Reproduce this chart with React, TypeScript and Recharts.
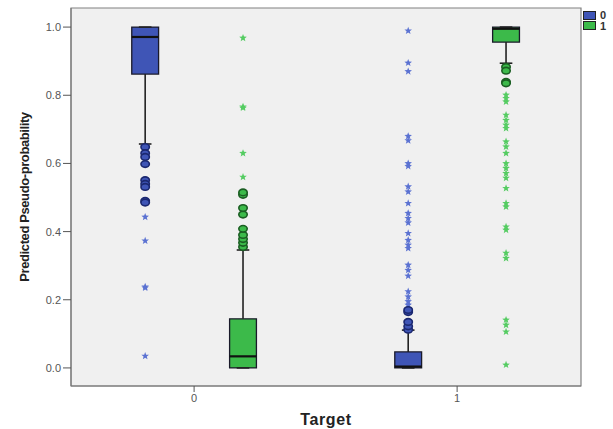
import {
  ScatterChart,
  Scatter,
  XAxis,
  YAxis,
  CartesianGrid,
  ReferenceArea,
  ReferenceLine,
} from "recharts";

// groups on the x axis (Target) and the two clustered series (legend 0 / 1)
const TARGETS: number[] = [0, 1];
const SERIES: string[] = ["0", "1"];

// box statistics, indexed [series][target]
const lowerWhisker: number[][] = [
  [0.657, 0.0],
  [0.0, 0.894],
];
const q1: number[][] = [
  [0.862, 0.0],
  [0.0, 0.956],
];
const median: number[][] = [
  [0.971, 0.004],
  [0.034, 0.995],
];
const q3: number[][] = [
  [1.0, 0.047],
  [0.144, 1.0],
];
const upperWhisker: number[][] = [
  [1.0, 0.111],
  [0.346, 1.0],
];

// outliers (circles) and extremes (stars), indexed [series][target]
const outliers: number[][][] = [
  [
    [0.648, 0.63, 0.619, 0.598, 0.551, 0.54, 0.531, 0.49, 0.485],
    [0.112, 0.122, 0.135, 0.164, 0.17],
  ],
  [
    [0.355, 0.367, 0.378, 0.39, 0.408, 0.45, 0.469, 0.508, 0.515],
    [0.883, 0.872, 0.839, 0.835],
  ],
];
const extremes: number[][][] = [
  [
    [0.443, 0.373, 0.238, 0.235, 0.035],
    [
      0.989, 0.895, 0.87, 0.68, 0.667, 0.6, 0.592, 0.532, 0.517, 0.483, 0.454,
      0.439, 0.426, 0.395, 0.375, 0.361, 0.351, 0.302, 0.287, 0.27, 0.224,
      0.209, 0.195, 0.185,
    ],
  ],
  [
    [0.56, 0.63, 0.763, 0.766, 0.968],
    [
      0.801, 0.791, 0.781, 0.742, 0.727, 0.713, 0.703, 0.664, 0.649, 0.63, 0.6,
      0.586, 0.571, 0.557, 0.527, 0.483, 0.473, 0.414, 0.405, 0.337, 0.322,
      0.141, 0.126, 0.106, 0.009,
    ],
  ],
];

const Y_TICKS: number[] = [0, 0.2, 0.4, 0.6, 0.8, 1.0];

const BOX_FILL = ["#3f55b6", "#3cba4a"];
const DARK = ["#1b2870", "#1b5e23"];
const STAR_FILL = ["#5b72d2", "#55cc62"];
const OFFSET = [-0.186, 0.186];
const HALF_BOX = 0.051;
const HALF_CAP = 0.024;
const X_DOMAIN: [number, number] = [-0.468, 1.471];
const Y_DOMAIN: [number, number] = [-0.053, 1.056];
const FONT = "'Liberation Sans', Arial, sans-serif";

const pointsFor = (values: number[][], s: number) =>
  TARGETS.flatMap((t, ti) =>
    values[ti].map((v) => ({ x: t + OFFSET[s], y: v }))
  );

const circleShape = (s: number) => (props: any) => (
  <ellipse
    cx={props.cx}
    cy={props.cy}
    rx={4.2}
    ry={3.3}
    fill={BOX_FILL[s]}
    stroke={DARK[s]}
    strokeWidth={1.6}
  />
);

const starShape = (s: number) => (props: any) => {
  const pts: string[] = [];
  for (let i = 0; i < 10; i++) {
    const r = i % 2 === 0 ? 4 : 1.7;
    const a = -Math.PI / 2 + (i * Math.PI) / 5;
    pts.push(`${props.cx + r * Math.cos(a)},${props.cy + r * Math.sin(a)}`);
  }
  return <polygon points={pts.join(" ")} fill={STAR_FILL[s]} />;
};

export default function App() {
  return (
    <div
      style={{
        position: "absolute",
        left: 0,
        top: 0,
        width: 613,
        height: 429,
        background: "#fff",
        fontFamily: FONT,
      }}
    >
      <ScatterChart
        width={613}
        height={429}
        margin={{ top: 8, right: 32, bottom: 0, left: 0 }}
      >
        <CartesianGrid fill="#f0f0f0" horizontal={false} vertical={false} />
        <XAxis
          type="number"
          dataKey="x"
          domain={X_DOMAIN}
          allowDataOverflow
          ticks={TARGETS}
          height={43}
          tickSize={6}
          axisLine={{ stroke: "#777" }}
          tickLine={{ stroke: "#555" }}
          tick={{ fill: "#555", fontSize: 11, fontFamily: FONT }}
          label={{
            value: "Target",
            position: "center",
            dy: 12,
            style: {
              fontSize: 16,
              fontWeight: 700,
              fill: "#222",
              fontFamily: FONT,
              letterSpacing: 0.6,
            },
          }}
        />
        <YAxis
          type="number"
          dataKey="y"
          domain={Y_DOMAIN}
          allowDataOverflow
          ticks={Y_TICKS}
          tickFormatter={(v: number) => v.toFixed(1)}
          width={71}
          tickSize={8}
          axisLine={{ stroke: "#777" }}
          tickLine={{ stroke: "#555" }}
          tick={{ fill: "#555", fontSize: 11, fontFamily: FONT }}
          label={{
            value: "Predicted Pseudo-probability",
            angle: -90,
            position: "center",
            dx: -11,
            style: {
              fontSize: 13,
              fontWeight: 700,
              fill: "#222",
              fontFamily: FONT,
              letterSpacing: -0.4,
            },
          }}
        />
        <ReferenceArea
          x1={X_DOMAIN[0]}
          x2={X_DOMAIN[1]}
          y1={Y_DOMAIN[0]}
          y2={Y_DOMAIN[1]}
          fill="none"
          stroke="#808080"
          strokeWidth={1.2}
        />
        {SERIES.map((name, s) =>
          TARGETS.map((t, ti) => {
            const c = t + OFFSET[s];
            return (
              <g key={`box-${name}-${t}`}>
                <ReferenceLine
                  segment={[
                    { x: c, y: lowerWhisker[s][ti] },
                    { x: c, y: q1[s][ti] },
                  ]}
                  stroke="#222"
                  strokeWidth={1.6}
                />
                <ReferenceLine
                  segment={[
                    { x: c, y: q3[s][ti] },
                    { x: c, y: upperWhisker[s][ti] },
                  ]}
                  stroke="#222"
                  strokeWidth={1.6}
                />
                <ReferenceLine
                  segment={[
                    { x: c - HALF_CAP, y: lowerWhisker[s][ti] },
                    { x: c + HALF_CAP, y: lowerWhisker[s][ti] },
                  ]}
                  stroke="#222"
                  strokeWidth={1.6}
                />
                <ReferenceLine
                  segment={[
                    { x: c - HALF_CAP, y: upperWhisker[s][ti] },
                    { x: c + HALF_CAP, y: upperWhisker[s][ti] },
                  ]}
                  stroke="#222"
                  strokeWidth={1.6}
                />
                <ReferenceArea
                  x1={c - HALF_BOX}
                  x2={c + HALF_BOX}
                  y1={q1[s][ti]}
                  y2={q3[s][ti]}
                  fill={BOX_FILL[s]}
                  fillOpacity={1}
                  stroke="#1a1a2a"
                  strokeWidth={1.3}
                />
                <ReferenceLine
                  segment={[
                    { x: c - HALF_BOX, y: median[s][ti] },
                    { x: c + HALF_BOX, y: median[s][ti] },
                  ]}
                  stroke="#111"
                  strokeWidth={2.2}
                />
              </g>
            );
          })
        )}
        {SERIES.map((name, s) => (
          <Scatter
            key={`ext-${name}`}
            name={name}
            data={pointsFor(extremes[s], s)}
            shape={starShape(s)}
            isAnimationActive={false}
          />
        ))}
        {SERIES.map((name, s) => (
          <Scatter
            key={`out-${name}`}
            name={name}
            data={pointsFor(outliers[s], s)}
            shape={circleShape(s)}
            isAnimationActive={false}
          />
        ))}
      </ScatterChart>
      <div style={{ position: "absolute", left: 583, top: 10 }}>
        {SERIES.map((name, s) => (
          <div
            key={name}
            style={{ display: "flex", alignItems: "center", height: 10.5 }}
          >
            <span
              style={{
                display: "inline-block",
                width: 11,
                height: 7,
                background: BOX_FILL[s],
                border: "1px solid #222",
                marginRight: 4,
              }}
            />
            <span style={{ fontSize: 11, fontWeight: 700, color: "#333" }}>
              {name}
            </span>
          </div>
        ))}
      </div>
    </div>
  );
}
